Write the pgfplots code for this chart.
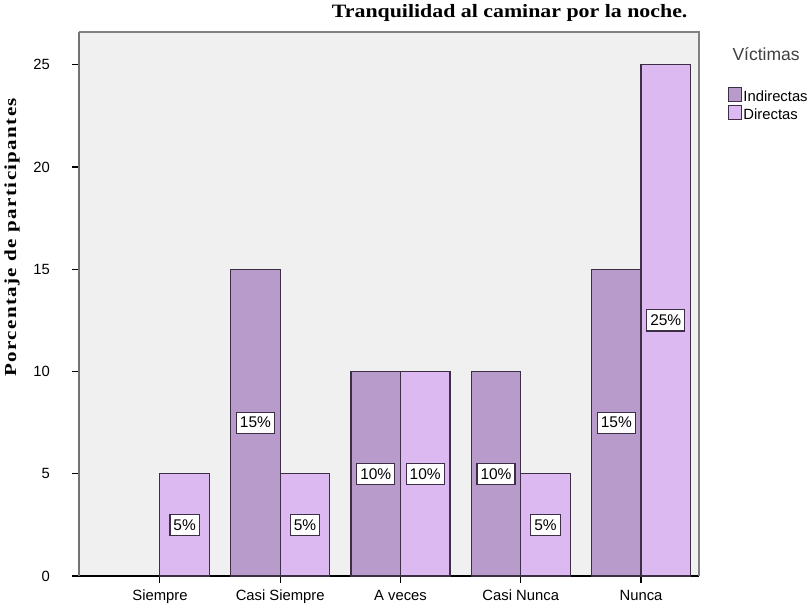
\documentclass[border=0pt]{standalone}
\usepackage{pgfplots}
\pgfplotsset{compat=1.18}
\usepackage{fontspec}
\setmainfont{Liberation Sans}
\newfontfamily\titlefont[FakeStretch=1.16]{Liberation Serif}
\newfontfamily\ylabfont[FakeStretch=1.25, LetterSpace=8]{Liberation Serif}
\definecolor{indir}{HTML}{B99BCB}
\definecolor{direc}{HTML}{DDB9F1}
\definecolor{bord}{HTML}{3C2E45}
\definecolor{bgc}{HTML}{F0F0F0}
\begin{document}
\begin{tikzpicture}
\begin{axis}[
    scale only axis,
    width=460.5pt, height=404pt,
    ybar=0pt, bar width=36.75pt,
    xmin=-0.675, xmax=4.48,
    ymin=0, ymax=26.6,
    xtick={0,1,2,3,4},
    xticklabels={Siempre, Casi Siempre, A veces, Casi Nunca, Nunca},
    ytick={0,5,10,15,20,25},
    tick align=outside,
    tick style={black, thick},
    major tick length=5pt,
    /pgf/number format/assume math mode=true,
    ticklabel style={font=\fontsize{11}{12}\selectfont},
    xticklabel style={yshift=-2pt},
    yticklabel style={xshift=-13pt},
    axis background/.style={fill=bgc},
    axis x line*=bottom,
    axis y line*=left,
    every outer x axis line/.append style={-, thick, black},
    every outer y axis line/.append style={-, very thick, black!55},
    ylabel={\ylabfont\bfseries Porcentaje de participantes},
    ylabel style={font=\fontsize{12.5}{14}\selectfont, at={(rel axis cs:-0.1075,0.623)}, anchor=center},
    clip=false,
    legend style={at={(rel axis cs:1.046,0.9)}, anchor=north west, draw=none, fill=none,
        font=\fontsize{11}{11}\selectfont, inner sep=0pt, row sep=-0.5pt,
        legend cell align=left,
        nodes={inner sep=1pt}},
    legend image code/.code={\draw[#1, draw=bord, thick] (0pt,-2.8pt) rectangle (10pt,7.6pt);},
    visualization depends on=y \as \rawy,
    nodes near coords={\pgfmathprintnumber{\rawy}\%},
    every node near coord/.append style={
        anchor=center, fill=white, draw=bord, thick, inner xsep=2.6pt, inner ysep=3.8pt,
        font=\fontsize{11.5}{12}\selectfont, text=black,
        shift={(axis direction cs:0,-\rawy/2)}},
]
\draw[very thick, black!50] (rel axis cs:0,1) -- (rel axis cs:1,1) -- (rel axis cs:1,0);
\addplot[fill=indir, draw=bord, thick] coordinates {(1,15) (2,10) (3,10) (4,15)};
\addplot[fill=direc, draw=bord, thick] coordinates {(0,5) (1,5) (2,10) (3,5) (4,25)};
\legend{Indirectas, Directas}
\node[anchor=center, font=\titlefont\bfseries\fontsize{14}{16}\selectfont] at (rel axis cs:0.695,1.035) {Tranquilidad al caminar por la noche.};
\node[anchor=west, font=\fontsize{13}{15}\selectfont, text=black!75, inner sep=0pt] at (rel axis cs:1.054,0.96) {Víctimas};
\end{axis}
\end{tikzpicture}
\end{document}
